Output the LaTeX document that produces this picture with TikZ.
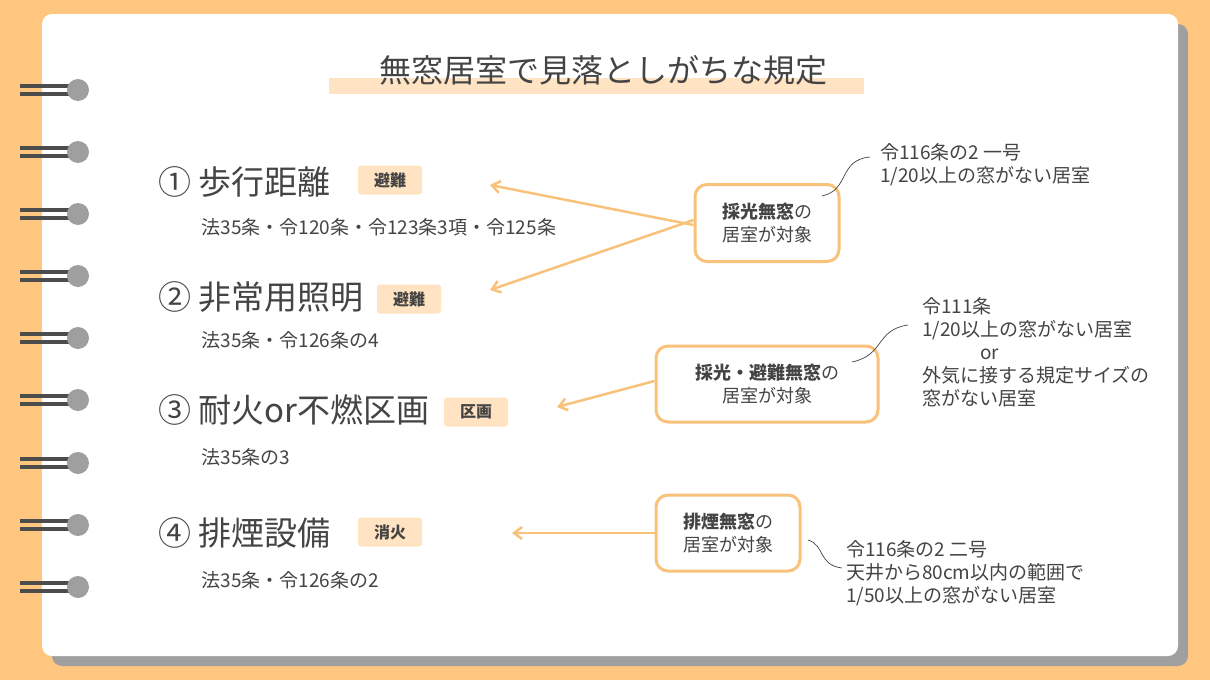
\documentclass[tikz,border=0pt]{standalone}
\usepackage{fontspec}
\setmainfont{Noto Sans CJK JP}
\usetikzlibrary{arrows.meta}
\definecolor{bgor}{HTML}{FFC680}
\definecolor{tagc}{HTML}{FFE3C2}
\definecolor{boxc}{HTML}{F8C27A}
\definecolor{txt}{HTML}{444444}
\tikzset{
 tag/.style={fill=tagc,rounded corners=3,minimum width=64,minimum height=29,inner sep=0,font=\fontsize{16}{16}\selectfont\bfseries,text=txt},
 head/.style={anchor=west,font=\fontsize{33}{33}\selectfont,text=txt},
 sub/.style={anchor=west,font=\fontsize{19}{19}\selectfont,text=txt},
 tbox/.style={draw=boxc,line width=3,rounded corners=12,align=center,text=txt,font=\fontsize{18}{23}\selectfont},
 note/.style={anchor=north west,align=left,text=txt,font=\fontsize{19}{23}\selectfont,inner sep=0},
 arr/.style={draw=boxc,line width=2.5,-{Straight Barb[length=8,width=12]}},
 lead/.style={draw=txt,line width=0.7},
}
\begin{document}
\begin{tikzpicture}[x=1pt,y=-1pt]
\useasboundingbox (0,0) rectangle (1210,680);
\fill[bgor] (0,0) rectangle (1210,680);
\fill[gray!75,rounded corners=10] (52,24) rectangle (1188,666);
\fill[white,rounded corners=10] (42,14) rectangle (1178,656);
\foreach \y in {90,152,214,276,338,400,463,525,587}{
 \draw[line width=3.5,black!70] (20,\y-4) -- (75,\y-4);
 \draw[line width=3.5,black!70] (20,\y+4) -- (75,\y+4);
 \fill[gray!75] (78,\y) circle (11);
}
\fill[tagc] (329,78) rectangle (864,94);
\node[font=\fontsize{32}{32}\selectfont,text=txt] (title) at (603,70) {無窓居室で見落としがちな規定};

\node[head] (h1) at (155,182) {① 歩行距離};
\node[tag] (t1) at (390,180) {避難};
\node[sub] (s1) at (198,227) {法35条・令120条・令123条3項・令125条};
\node[head] (h2) at (155,297) {② 非常用照明};
\node[tag] (t2) at (409,299) {避難};
\node[sub] (s2) at (198,340) {法35条・令126条の4};
\node[head] (h3) at (155,410) {③ 耐火or不燃区画};
\node[tag] (t3) at (476,412) {区画};
\node[sub] (s3) at (198,457) {法35条の3};
\node[head] (h4) at (155,533) {④ 排煙設備};
\node[tag] (t4) at (390,532) {消火};
\node[sub] (s4) at (198,580) {法35条・令126条の2};

\node[tbox,minimum width=144,minimum height=77] (b1) at (767,223) {\textbf{採光無窓}の\\居室が対象};
\node[tbox,minimum width=222,minimum height=76] (b2) at (767,384) {\textbf{採光・避難無窓}の\\居室が対象};
\node[tbox,minimum width=144,minimum height=76] (b3) at (728,533) {\textbf{排煙無窓}の\\居室が対象};

\coordinate (a1) at (490,185);
\coordinate (a2) at (490,290);
\coordinate (a3) at (557,407);
\coordinate (a4) at (512,533);
\draw[arr] ([yshift=-2]b1.west) -- (a1);
\draw[arr] ([yshift=3]b1.west) -- (a2);
\draw[arr] ([yshift=3]b2.west) -- (a3);
\draw[arr] (b3.west) -- (a4);

\node[note] (n1) at (880,143) {令116条の2 一号\\1/20以上の窓がない居室};
\node[note] (n2) at (922,297) {令111条\\1/20以上の窓がない居室\\\hspace{58pt}or\\外気に接する規定サイズの\\窓がない居室};
\node[note] (n3) at (846,540) {令116条の2 二号\\天井から80cm以内の範囲で\\1/50以上の窓がない居室};

\coordinate (c1) at (822,196);
\coordinate (c2) at (852,362);
\coordinate (c3) at (808,540);
\draw[lead] (c1) .. controls (850,190) and (838,160) .. (870,157);
\draw[lead] (c2) .. controls (885,355) and (875,330) .. (908,325);
\draw[lead] (c3) .. controls (825,545) and (818,565) .. (842,568);
\end{tikzpicture}
\end{document}
